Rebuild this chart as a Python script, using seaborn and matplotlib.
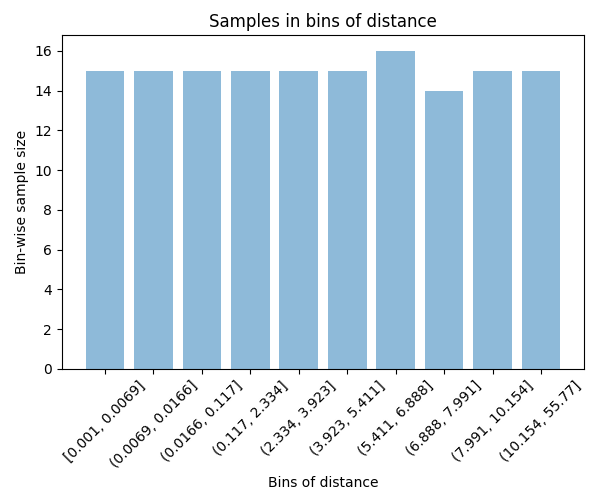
import matplotlib
matplotlib.use("Agg")
import matplotlib.pyplot as plt
import seaborn as sns
import pandas as pd

# bins of distance and their sample counts
bin_labels = ["[0.001, 0.0069]", "(0.0069, 0.0166]", "(0.0166, 0.117]", "(0.117, 2.334]",
              "(2.334, 3.923]", "(3.923, 5.411]", "(5.411, 6.888]", "(6.888, 7.991]",
              "(7.991, 10.154]", "(10.154, 55.77]"]
sample_sizes = [15, 15, 15, 15, 15, 15, 16, 14, 15, 15]

df = pd.DataFrame({"bin": bin_labels, "n": sample_sizes})

fig, ax = plt.subplots(figsize=(5.9, 4.93), dpi=100)
sns.barplot(data=df, x="bin", y="n", order=bin_labels, color="#1f77b4",
            alpha=0.5, saturation=1, width=0.8, ax=ax)

ax.set_xlim(-0.89, 9.89)
ax.set_ylim(0, 16.8)
ax.set_title("Samples in bins of distance", fontsize=12)
ax.set_xlabel("Bins of distance")
ax.set_ylabel("Bin-wise sample size")
plt.setp(ax.get_xticklabels(), rotation=45)

fig.subplots_adjust(left=0.105, right=0.99, top=0.929, bottom=0.252)
fig.savefig("out.png", dpi=100)
